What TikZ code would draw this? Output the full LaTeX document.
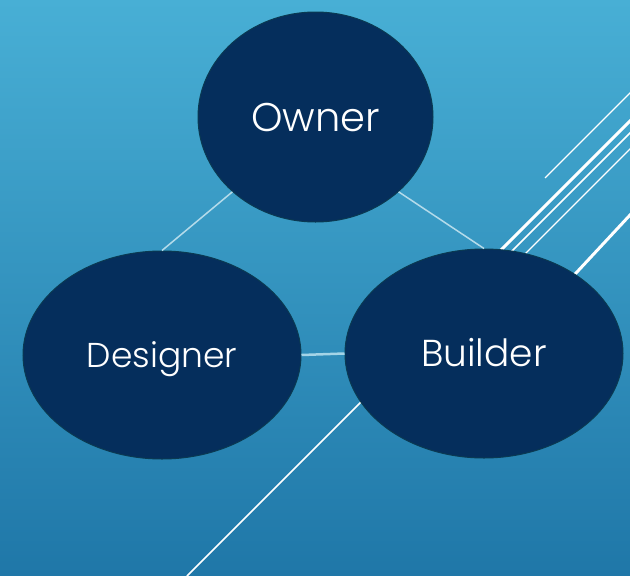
\documentclass[tikz,border=0pt]{standalone}
\usepackage{fontspec}
\newfontfamily\lblfont{Poppins Light}
\usetikzlibrary{shapes.geometric}
\definecolor{bgtop}{HTML}{48AFD5}
\definecolor{bgbot}{HTML}{1F77A8}
\definecolor{navy}{HTML}{052E5C}
\definecolor{rim}{HTML}{0A3A52}
\definecolor{linkc}{HTML}{B4DBEA}
\tikzset{
  role/.style={ellipse, fill=navy, draw=rim, line width=1pt, inner sep=0pt,
    text=white, text depth=0pt},
  link/.style={draw=linkc, line width=1.5pt},
  deco/.style={draw=white, line cap=butt}
}
\begin{document}
\begin{tikzpicture}[x=1pt,y=-1pt]
\useasboundingbox (0,0) rectangle (630,576);
\shade[top color=bgtop, bottom color=bgbot] (0,0) rectangle (630,576);
\begin{scope}
\clip (0,0) rectangle (630,576);
% decorative lines
\draw[deco, line width=1.4pt] (545,178) -- (640,83);
\draw[deco, line width=3pt] (440,311) -- (640,111);
\draw[deco, line width=1.6pt] (187,576) -- (640,123);
\draw[deco, line width=1.4pt] (470,309) -- (640,139);
\draw[deco, line width=3pt] (550,301) -- (640,204.3);
\end{scope}
% nodes
\node[role, minimum width=235pt, minimum height=210pt, text height=28pt, font=\lblfont\fontsize{40}{48}\selectfont] (owner) at (315.5,117) {Owner};
\node[role, minimum width=278pt, minimum height=208pt, text height=24.5pt, font=\lblfont\fontsize{34.5}{41}\selectfont] (designer) at (162,355) {Designer};
\node[role, minimum width=278pt, minimum height=209pt, text height=26.2pt, font=\lblfont\fontsize{37.5}{45}\selectfont] (builder) at (484,353.5) {Builder};
% connectors
\draw[link] (owner.222) -- (designer.north);
\draw[link] (owner.318) -- (builder.north);
\draw[link, line width=2.5pt, draw=linkc!85!bgtop] (designer.east) -- (builder.west);
\end{tikzpicture}
\end{document}
